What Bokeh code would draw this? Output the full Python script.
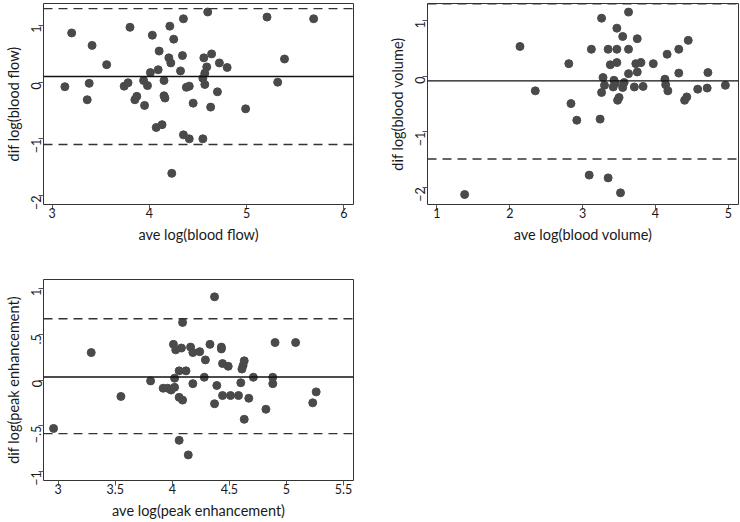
import math
from bokeh.plotting import figure
from bokeh.layouts import column, row
from bokeh.models import Span, FixedTicker
from bokeh.embed import file_html
from bokeh.resources import INLINE

# ---------------- data ----------------
flow_ave = [3.20, 3.41, 3.13, 3.38, 3.36, 3.56, 3.80, 3.74, 3.78, 3.87, 3.85, 3.95, 4.03, 3.94,
            3.98, 4.01, 4.09, 4.10, 4.15, 4.21, 4.25, 4.20, 4.22, 4.15, 4.16, 4.35, 4.34, 4.32,
            4.38, 4.41, 4.45, 4.60, 4.56, 4.59, 4.57, 4.55, 4.57, 4.64, 4.72, 4.80, 4.70, 4.63,
            4.99, 5.21, 5.39, 5.32, 5.69, 4.07, 4.13, 4.35, 4.41, 4.55, 4.23]
flow_dif = [0.87, 0.65, -0.08, -0.02, -0.31, 0.31, 0.97, -0.07, -0.01, -0.25, -0.31, -0.41, 0.83, 0.03,
            -0.06, 0.17, 0.22, 0.55, 0.03, 0.99, 0.76, 0.43, 0.34, -0.24, -0.28, 1.12, 0.47, 0.20,
            -0.09, -0.07, -0.37, 1.24, 0.43, 0.27, 0.16, 0.07, -0.04, 0.50, 0.34, 0.26, -0.17, -0.44,
            -0.47, 1.15, 0.41, 0.00, 1.12, -0.80, -0.75, -0.93, -1.00, -1.00, -1.61]
flow_lines = [0.10, 1.30, -1.10]  # mean, upper limit, lower limit

vol_ave = [2.14, 2.35, 2.81, 2.84, 2.92, 3.12, 3.24, 3.26, 3.28, 3.26, 3.30, 3.35, 3.38, 3.47,
           3.47, 3.47, 3.43, 3.42, 3.45, 3.50, 3.48, 3.55, 3.55, 3.57, 3.63, 3.63, 3.63, 3.71,
           3.73, 3.75, 3.75, 3.80, 3.83, 3.97, 4.13, 4.14, 4.16, 4.17, 4.32, 4.32, 4.40, 4.43,
           4.45, 4.58, 4.71, 4.72, 4.96, 3.09, 3.35, 3.52, 1.38]
vol_dif = [0.54, -0.26, 0.23, -0.49, -0.79, 0.49, -0.77, 1.05, -0.02, -0.29, -0.16, 0.49, 0.21, 0.49,
           0.87, 0.25, -0.07, -0.19, -0.12, -0.38, -0.43, 0.72, -0.20, -0.11, 0.49, 1.16, 0.05, -0.19,
           0.23, 0.08, 0.68, 0.25, -0.18, 0.23, -0.05, -0.15, 0.40, -0.26, 0.49, 0.06, -0.43, -0.37,
           0.65, -0.23, -0.21, 0.07, -0.16, -1.78, -1.83, -2.10, -2.13]
vol_lines = [-0.08, 1.31, -1.49]

peak_ave = [3.29, 4.37, 4.09, 4.01, 4.03, 4.08, 4.16, 4.18, 4.24, 4.33, 4.43, 4.43, 4.29, 4.44,
            4.49, 4.63, 4.62, 4.61, 4.90, 5.08, 4.06, 4.12, 4.02, 4.28, 4.71, 4.88, 3.81, 4.18,
            4.39, 4.60, 4.88, 3.92, 3.96, 4.02, 3.99, 3.55, 4.06, 4.09, 4.44, 4.51, 4.58, 4.67,
            4.37, 4.82, 5.23, 5.26, 4.63, 2.96, 4.06, 4.14]
peak_dif = [0.30, 0.91, 0.63, 0.39, 0.33, 0.35, 0.36, 0.30, 0.31, 0.39, 0.36, 0.34, 0.22, 0.18,
            0.15, 0.21, 0.16, 0.12, 0.41, 0.41, 0.10, 0.10, 0.02, 0.03, 0.03, 0.03, -0.01, -0.04,
            -0.06, -0.03, -0.04, -0.09, -0.09, -0.08, -0.11, -0.18, -0.19, -0.22, -0.17, -0.17, -0.17, -0.20,
            -0.26, -0.32, -0.25, -0.13, -0.43, -0.53, -0.66, -0.82]
peak_lines = [0.033, 0.67, -0.587]

flow_xticks = [3, 4, 5, 6]
flow_yticks = [-2, -1, 0, 1]
vol_xticks = [1, 2, 3, 4, 5]
vol_yticks = [-2, -1, 0, 1]
peak_xticks = [3.0, 3.5, 4.0, 4.5, 5.0, 5.5]
peak_yticks = [-1.0, -0.5, 0.0, 0.5, 1.0]
flow_ylabels = ["\u22122", "\u22121", "0", "1"]
vol_ylabels = ["\u22122", "\u22121", "0", "1"]
peak_xlabels = ["3", "3.5", "4", "4.5", "5", "5.5"]
peak_ylabels = ["\u22121", "\u2212.5", "0", ".5", "1"]

FONT = "Lato"
PT_COLOR = "#4a4a4a"


def panel(xs, ys, lines, xr, yr, xt, yt, ylab, xlab_txt, ylab_txt,
          width, height, mb, xlab=None):
    p = figure(width=width, height=height, x_range=xr, y_range=yr,
               output_backend="svg", toolbar_location=None,
               min_border_left=mb[0], min_border_right=mb[1],
               min_border_top=mb[2], min_border_bottom=mb[3])
    p.xgrid.visible = False
    p.ygrid.visible = False
    p.outline_line_color = "#333333"
    p.outline_line_width = 1
    p.background_fill_color = "white"
    p.border_fill_color = "white"
    p.scatter(xs, ys, size=8, color=PT_COLOR, line_color=PT_COLOR)
    p.add_layout(Span(location=lines[0], dimension="width", line_color="#111111", line_width=1.4))
    for v in lines[1:]:
        p.add_layout(Span(location=v, dimension="width", line_color="#333333",
                          line_width=1.4, line_dash="9 6"))
    for ax, ticks in ((p.xaxis, xt), (p.yaxis, yt)):
        ax.ticker = FixedTicker(ticks=ticks)
        ax.axis_line_color = None
        ax.major_tick_in = 0
        ax.major_tick_out = 5
        ax.major_tick_line_color = "#555555"
        ax.minor_tick_line_color = None
        ax.major_label_text_font = FONT
        ax.major_label_text_font_size = "12.5px"
        ax.major_label_text_color = "#1a1a1a"
        ax.axis_label_text_font = FONT
        ax.axis_label_text_font_size = "14.5px"
        ax.axis_label_text_font_style = "normal"
        ax.axis_label_text_color = "#1a1a1a"
    p.xaxis.axis_label = xlab_txt
    p.yaxis.axis_label = ylab_txt
    p.xaxis.major_label_standoff = -2
    p.xaxis.axis_label_standoff = 5
    p.yaxis.major_label_standoff = 2
    p.yaxis.axis_label_standoff = 2
    p.yaxis.major_label_orientation = math.pi / 2
    p.yaxis.major_label_overrides = {t: s for t, s in zip(yt, ylab)}
    if xlab is not None:
        p.xaxis.major_label_overrides = {t: s for t, s in zip(xt, xlab)}
    return p


p1 = panel(flow_ave, flow_dif, flow_lines, (2.91, 6.10), (-2.16, 1.39),
           flow_xticks, flow_yticks, flow_ylabels,
           "ave log(blood flow)", "dif log(blood flow)",
           385, 250, (43, 32, 3, 46))
p2 = panel(vol_ave, vol_dif, vol_lines, (0.87, 5.14), (-2.31, 1.315),
           vol_xticks, vol_yticks, vol_ylabels,
           "ave log(blood volume)", "dif log(blood volume)",
           355, 250, (42, 2, 3, 46))
p3 = panel(peak_ave, peak_dif, peak_lines, (2.872, 5.587), (-1.10, 1.10),
           peak_xticks, peak_yticks, peak_ylabels,
           "ave log(peak enhancement)", "dif log(peak enhancement)",
           385, 272, (43, 32, 29, 42), xlab=peak_xlabels)

layout = column(row(p1, p2), p3)
open("out.html", "w").write(file_html(layout, INLINE))
